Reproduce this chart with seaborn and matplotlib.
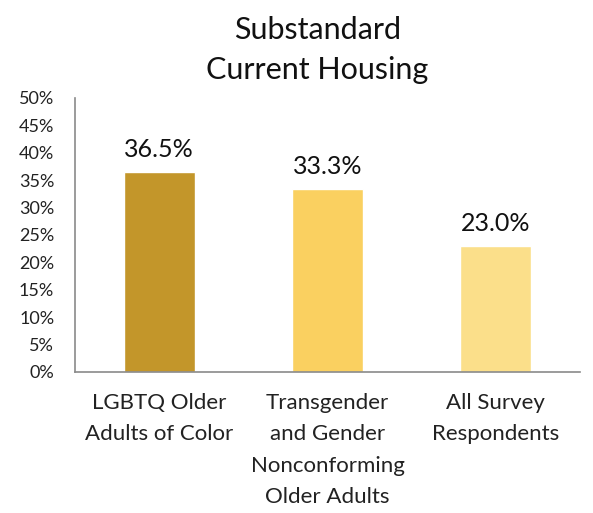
import matplotlib
matplotlib.use("Agg")
import matplotlib.pyplot as plt
import seaborn as sns
import pandas as pd
from matplotlib.ticker import FixedLocator

categories = ["LGBTQ Older\nAdults of Color",
              "Transgender\nand Gender\nNonconforming\nOlder Adults",
              "All Survey\nRespondents"]
values = [36.5, 33.3, 23.0]
value_labels = ["36.5%", "33.3%", "23.0%"]
yticks = [0, 5, 10, 15, 20, 25, 30, 35, 40, 45, 50]
ytick_labels = [f"{t}%" for t in yticks]
colors = ["#C3962A", "#FAD060", "#FBDF8A"]
title = "Substandard\nCurrent Housing"

sns.set_style("white")
plt.rcParams['font.family'] = ['Lato', 'DejaVu Sans']

df = pd.DataFrame({"cat": categories, "val": values})

fig = plt.figure(figsize=(5.93, 5.13), dpi=100)
ax = fig.add_axes([0.1265, 0.2749, 0.978 - 0.1265, 0.809 - 0.2749])

sns.barplot(data=df, x="cat", y="val", hue="cat", palette=colors,
            width=0.42, legend=False, ax=ax, saturation=1)

ax.set_ylim(0, 50)
ax.set_xlim(-0.5, 2.5)
ax.set_yticks(yticks)
ax.set_yticklabels(ytick_labels, fontsize=13, color="#222222")

ax.set_xticks([0, 1, 2])
ax.set_xticklabels(categories, fontsize=16, color="#222222", linespacing=1.72)
ax.tick_params(axis="x", length=0, pad=15)
ax.xaxis.set_minor_locator(FixedLocator([-0.5, 0.5, 1.5, 2.5]))
ax.tick_params(axis="x", which="minor", length=5, color="#8a8a8a", width=1, direction="out")
ax.tick_params(axis="y", length=5, color="#8a8a8a", width=1, direction="out", pad=10)
ax.set_xlabel("")
ax.set_ylabel("")

for side in ["top", "right"]:
    ax.spines[side].set_visible(False)
for side in ["left", "bottom"]:
    ax.spines[side].set_color("#8a8a8a")
    ax.spines[side].set_linewidth(1.2)

for i, (v, lab) in enumerate(zip(values, value_labels)):
    ax.annotate(lab, (i, v), xytext=(0, 8), textcoords="offset points",
                ha="center", va="bottom", fontsize=18, color="#111111")

fig.text(0.535, 0.9025, title, ha="center", va="center", fontsize=22,
         color="#111111", linespacing=1.55)

fig.savefig("out.png", dpi=100, facecolor="white")
